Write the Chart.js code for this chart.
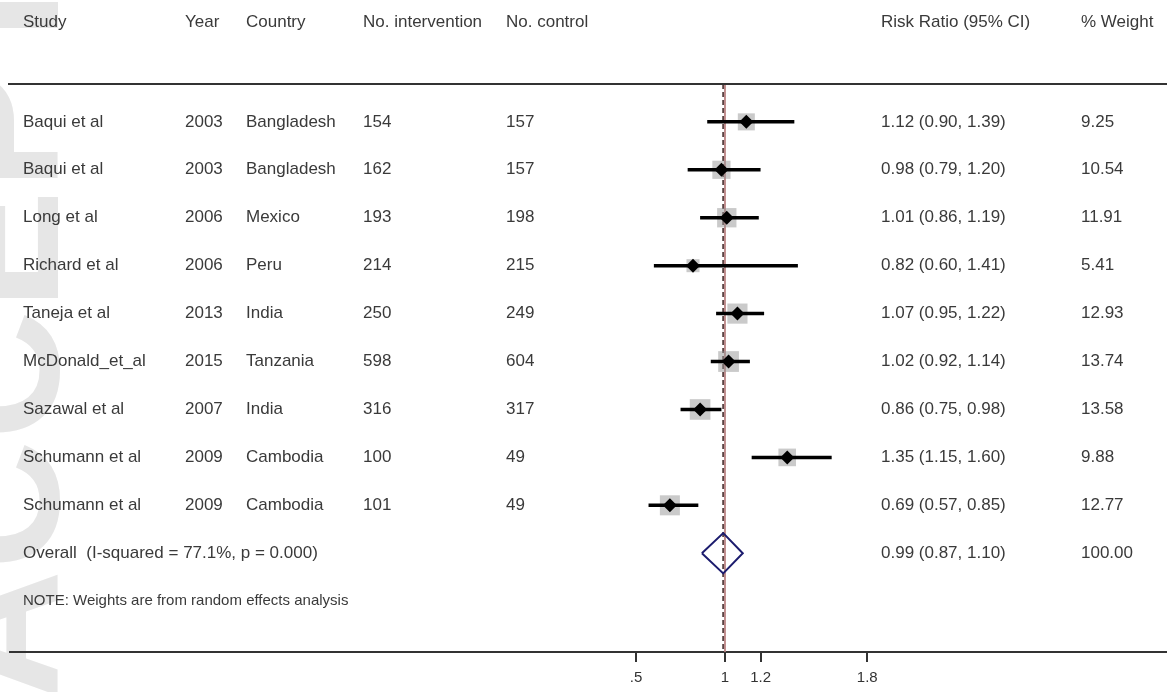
<!DOCTYPE html>
<html>
<head>
<meta charset="utf-8">
<script src="https://cdn.jsdelivr.net/npm/chart.js@4.4.0/dist/chart.umd.min.js"></script>
<style>
html, body { margin: 0; padding: 0; background: #fff; overflow: hidden; }
#wrap { position: relative; width: 1167px; height: 692px; }
#forest { display: block; }
</style>
</head>
<body>
<div id="wrap"><canvas id="forest"></canvas></div>
<script>
/*--data--*/
var studies = ["Baqui et al", "Baqui et al", "Long et al", "Richard et al", "Taneja et al",
  "McDonald_et_al", "Sazawal et al", "Schumann et al", "Schumann et al"];
var years = [2003, 2003, 2006, 2006, 2013, 2015, 2007, 2009, 2009];
var countries = ["Bangladesh", "Bangladesh", "Mexico", "Peru", "India", "Tanzania", "India", "Cambodia", "Cambodia"];
var nIntervention = [154, 162, 193, 214, 250, 598, 316, 100, 101];
var nControl = [157, 157, 198, 215, 249, 604, 317, 49, 49];
var rr = [1.12, 0.98, 1.01, 0.82, 1.07, 1.02, 0.86, 1.35, 0.69];
var lower = [0.90, 0.79, 0.86, 0.60, 0.95, 0.92, 0.75, 1.15, 0.57];
var upper = [1.39, 1.20, 1.19, 1.41, 1.22, 1.14, 0.98, 1.60, 0.85];
var weights = [9.25, 10.54, 11.91, 5.41, 12.93, 13.74, 13.58, 9.88, 12.77];
var overall = [0.99, 0.87, 1.10]; // estimate, lower, upper
var overallWeight = 100.00;
var overallLabel = "Overall  (I-squared = 77.1%, p = 0.000)";
var note = "NOTE: Weights are from random effects analysis";
var xTicks = [0.5, 1, 1.2, 1.8];
var xTickLabels = [".5", "1", "1.2", "1.8"];

var overallRow = studies.length;
var noteRow = studies.length + 1;
var yMin = -0.79, yMax = 11.06;
var font = '"Liberation Sans", Arial, sans-serif';

var datasets = [];
// black diamonds for the point estimates
datasets.push({
  data: rr.map(function (v, i) { return { x: v, y: i }; }),
  pointStyle: 'rectRot', pointRadius: 7,
  backgroundColor: '#000', borderWidth: 0, order: 0
});
// confidence intervals
rr.forEach(function (v, i) {
  datasets.push({
    data: [{ x: lower[i], y: i }, { x: upper[i], y: i }],
    showLine: true, borderColor: '#000', borderWidth: 3.5, pointRadius: 0, order: 1
  });
});
// grey weight boxes
datasets.push({
  data: rr.map(function (v, i) { return { x: v, y: i }; }),
  pointStyle: 'rect',
  pointRadius: weights.map(function (w) { return Math.sqrt(w) * 5.6 / Math.SQRT2; }),
  backgroundColor: 'rgba(150,150,150,0.5)', borderWidth: 0, order: 2
});
// overall diamond
datasets.push({
  data: [
    { x: overall[1], y: overallRow }, { x: overall[0], y: overallRow - 0.42 },
    { x: overall[2], y: overallRow }, { x: overall[0], y: overallRow + 0.42 },
    { x: overall[1], y: overallRow }
  ],
  showLine: true, borderColor: '#1c1c6e', borderWidth: 2, pointRadius: 0, order: 0
});
// null line
datasets.push({
  data: [{ x: 1, y: yMin }, { x: 1, y: yMax }],
  showLine: true, borderColor: '#b88080', borderWidth: 1, pointRadius: 0, order: 3
});
// overall effect line
datasets.push({
  data: [{ x: overall[0], y: yMin }, { x: overall[0], y: yMax }],
  showLine: true, borderColor: '#5a4444', borderWidth: 2, borderDash: [5, 3], pointRadius: 0, order: 3
});

var watermark = {
  id: 'watermark',
  beforeDraw: function (chart) {
    var ctx = chart.ctx;
    ctx.save();
    ctx.translate(58, 700);
    ctx.rotate(-Math.PI / 2);
    ctx.font = 'bold 180px ' + font;
    ctx.fillStyle = '#e6e6e6';
    ctx.textBaseline = 'alphabetic';
    ctx.fillText("ACCEPTED MANUSCRIPT", 0, 0);
    ctx.restore();
  }
};

var table = {
  id: 'table',
  afterDraw: function (chart) {
    var ctx = chart.ctx, ys = chart.scales.y, area = chart.chartArea;
    var cols = { study: 23, year: 185, country: 246, nInt: 363, nCtl: 506, rr: 881, w: 1081 };
    ctx.save();
    ctx.strokeStyle = '#333';
    ctx.lineWidth = 2;
    ctx.beginPath();
    ctx.moveTo(area.left - 2, area.top);
    ctx.lineTo(area.right, area.top);
    ctx.stroke();

    ctx.fillStyle = '#3a3a3a';
    ctx.textBaseline = 'middle';
    ctx.font = '17px ' + font;
    var hy = area.top - 62;
    ctx.fillText("Study", cols.study, hy);
    ctx.fillText("Year", cols.year, hy);
    ctx.fillText("Country", cols.country, hy);
    ctx.fillText("No. intervention", cols.nInt, hy);
    ctx.fillText("No. control", cols.nCtl, hy);
    ctx.fillText("Risk Ratio (95% CI)", cols.rr, hy);
    ctx.fillText("% Weight", cols.w, hy);

    studies.forEach(function (s, i) {
      var y = ys.getPixelForValue(i);
      ctx.fillText(s, cols.study, y);
      ctx.fillText(String(years[i]), cols.year, y);
      ctx.fillText(countries[i], cols.country, y);
      ctx.fillText(String(nIntervention[i]), cols.nInt, y);
      ctx.fillText(String(nControl[i]), cols.nCtl, y);
      ctx.fillText(rr[i].toFixed(2) + " (" + lower[i].toFixed(2) + ", " + upper[i].toFixed(2) + ")", cols.rr, y);
      ctx.fillText(weights[i].toFixed(2), cols.w, y);
    });
    var oy = ys.getPixelForValue(overallRow);
    ctx.fillText(overallLabel, cols.study, oy);
    ctx.fillText(overall[0].toFixed(2) + " (" + overall[1].toFixed(2) + ", " + overall[2].toFixed(2) + ")", cols.rr, oy);
    ctx.fillText(overallWeight.toFixed(2), cols.w, oy);

    ctx.font = '15px ' + font;
    ctx.fillText(note, cols.study, ys.getPixelForValue(noteRow));
    ctx.restore();
  }
};

var ctx = document.getElementById("forest").getContext('2d');
var forest = new Chart(ctx, {
  type: 'scatter',
  data: { datasets: datasets },
  plugins: [watermark, table],
  options: {
    responsive: true,
    maintainAspectRatio: false,
    animation: false,
    events: [],
    layout: { autoPadding: false, padding: { left: 10, right: 0, top: 84, bottom: 0 } },
    plugins: { legend: { display: false }, tooltip: { enabled: false } },
    scales: {
      x: {
        type: 'linear',
        min: -3.0214,
        max: 3.486,
        afterBuildTicks: function (scale) {
          scale.ticks = xTicks.map(function (v) { return { value: v }; });
        },
        afterFit: function (scale) {
          scale.height = 40;
          scale.paddingLeft = 0;
          scale.paddingRight = 0;
        },
        ticks: {
          autoSkip: false,
          maxRotation: 0,
          padding: 7,
          color: '#333',
          font: { family: font, size: 15 },
          callback: function (v, i) { return xTickLabels[i]; }
        },
        grid: { drawOnChartArea: false, drawTicks: true, tickLength: 10, color: '#333', lineWidth: 2 },
        border: { display: true, color: '#333', width: 2 }
      },
      y: { type: 'linear', reverse: true, min: yMin, max: yMax, display: false }
    }
  }
});
</script>
</body>
</html>
